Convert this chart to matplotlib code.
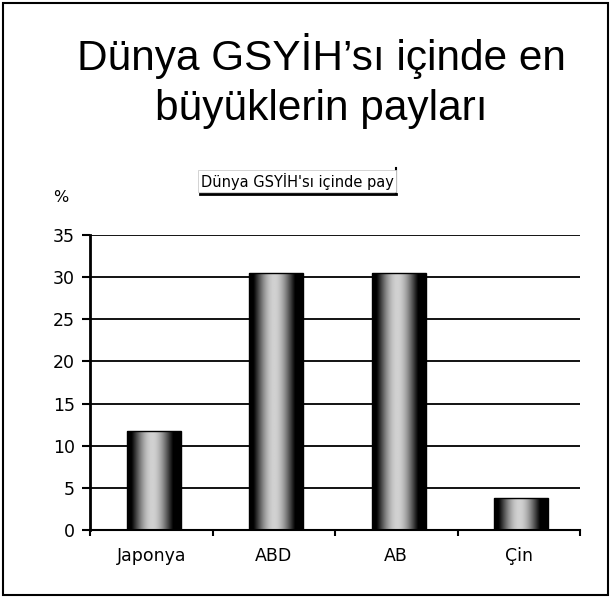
import numpy as np
import matplotlib.pyplot as plt
from matplotlib.patches import Rectangle
from matplotlib.lines import Line2D

categories = ['Japonya', 'ABD', 'AB', 'Çin']
shares = [11.8, 30.5, 30.5, 3.8]
yticks = [0, 5, 10, 15, 20, 25, 30, 35]

title_1 = 'Dünya GSYİH’sı içinde en'
title_2 = 'büyüklerin payları'
legend_label = "Dünya GSYİH'sı içinde pay"

W, H = 611, 598
fig = plt.figure(figsize=(W / 100, H / 100), dpi=100)
ax = fig.add_axes([90 / W, 68 / H, 490 / W, 295 / H])

x = np.arange(len(categories))
bars = ax.bar(x + 0.02, shares, width=0.44, facecolor='none',
              edgecolor='black', linewidth=1, zorder=3)

# cylinder-like shading: dark edges, light middle
t = np.linspace(0, 1, 256)
shade = np.clip(np.sin(np.pi * (t - 0.08) / 0.78), 0, 1) ** 1.1 * 0.82
img = shade[None, :]
for b in bars:
    x0, y0 = b.get_x(), b.get_y()
    w, h = b.get_width(), b.get_height()
    im = ax.imshow(img, cmap='gray', vmin=0, vmax=1, aspect='auto',
                   extent=[x0, x0 + w, y0, y0 + h], zorder=2,
                   interpolation='bilinear')
    im.set_clip_path(b)

ax.set_xlim(-0.5, len(categories) - 0.5)
ax.set_ylim(0, 35)
ax.set_yticks(yticks)
ax.set_xticks(x)
ax.set_xticklabels(categories)
ax.set_xticks(np.arange(len(categories) + 1) - 0.5, minor=True)

ax.yaxis.grid(True, color='black', linewidth=1.3)
ax.set_axisbelow(True)
for s in ['top', 'right']:
    ax.spines[s].set_visible(False)
ax.spines['left'].set_linewidth(2)
ax.spines['bottom'].set_linewidth(1.5)

ax.tick_params(axis='y', length=6, width=1.5, pad=5, labelsize=12.5)
ax.tick_params(axis='x', which='major', length=0, pad=12, labelsize=12.5)
ax.tick_params(axis='x', which='minor', length=4, width=1.5)

fig.text(321 / W, 1 - 70 / H, title_1, family='Liberation Sans', fontsize=30.5,
         ha='center', va='baseline')
fig.text(321 / W, 1 - 120 / H, title_2, family='Liberation Sans', fontsize=30.5,
         ha='center', va='baseline')

fig.text(297 / W, 1 - 181 / H, legend_label, fontsize=10.5, ha='center',
         va='center',
         bbox=dict(boxstyle='square,pad=0.15', facecolor='white',
                   edgecolor='#cccccc', linewidth=0.6))
fig.add_artist(Line2D([200 / W, 396 / W], [1 - 194 / H, 1 - 194 / H],
                      transform=fig.transFigure, color='black', linewidth=2))
fig.add_artist(Line2D([396 / W, 396 / W], [1 - 168 / H, 1 - 194 / H],
                      transform=fig.transFigure, color='black', linewidth=1.5))

fig.text(53 / W, 1 - 198 / H, '%', fontsize=11.5, ha='left', va='center')

fig.add_artist(Rectangle((3 / W, 3 / H), 605 / W, 592 / H,
                         transform=fig.transFigure, fill=False,
                         edgecolor='black', linewidth=1.5))

fig.savefig('out.png', dpi=100)
